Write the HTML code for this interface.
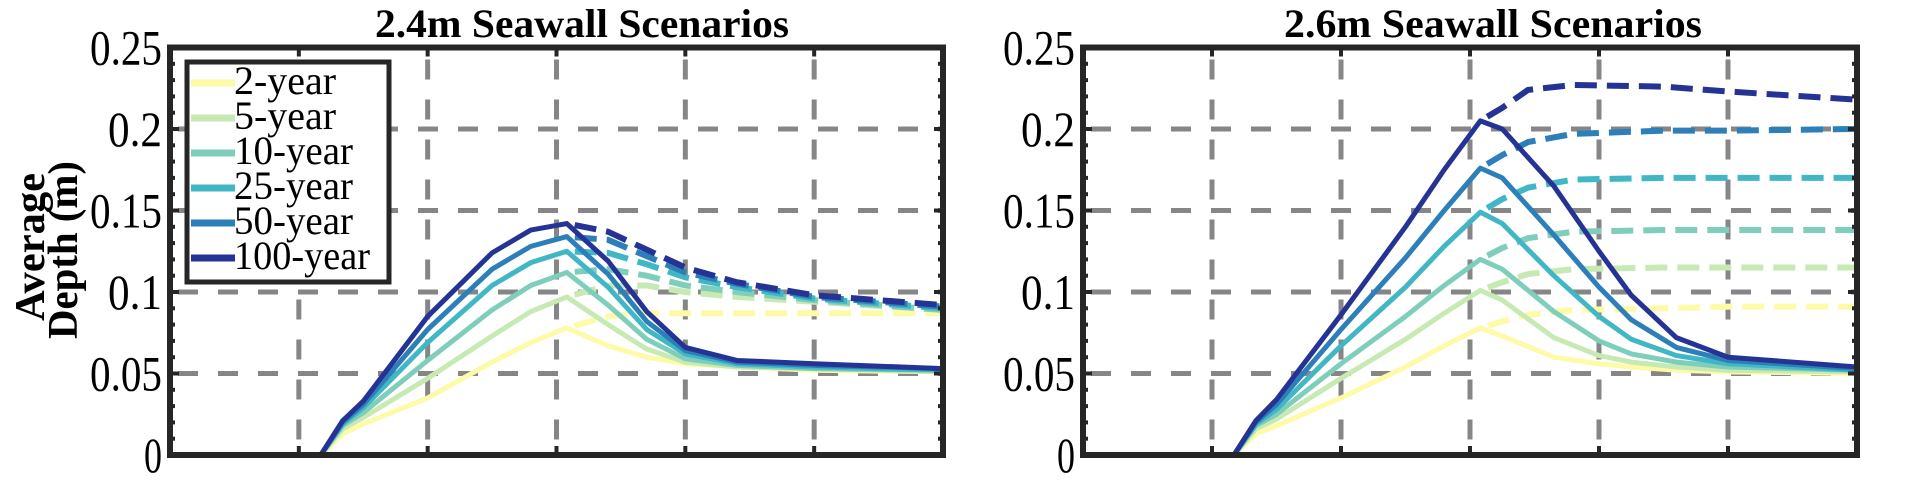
<!DOCTYPE html>
<html><head><meta charset="utf-8"><style>
html,body{margin:0;padding:0;background:#fff;}
svg{display:block;}
text{font-family:"Liberation Serif",serif;fill:#000;}
</style></head><body>
<svg id="fig" width="1905" height="481" viewBox="0 0 1905 481" xmlns="http://www.w3.org/2000/svg"></svg>
<script>
const seriesNames = ["2-year","5-year","10-year","25-year","50-year","100-year"];
const seriesColors = ["#fdfaa8","#c7e9b4","#7fcdbb","#41b6c4","#2c7fb8","#253494"];
const yTicks = [0,0.05,0.1,0.15,0.2,0.25];
const yTickLabels = ["0","0.05","0.1","0.15","0.2","0.25"];
const xGrid = [1,2,3,4,5];

// Left panel (2.4m)
const riseX = [0,1.17,1.34,1.5,2,2.5,2.8,3.08];
const leftRise = [
 [0,0,0.013,0.019,0.035,0.057,0.069,0.078],
 [0,0,0.016,0.023,0.047,0.073,0.088,0.097],
 [0,0,0.018,0.026,0.058,0.089,0.104,0.112],
 [0,0,0.019,0.029,0.069,0.104,0.118,0.125],
 [0,0,0.020,0.031,0.077,0.114,0.128,0.134],
 [0,0,0.021,0.033,0.085,0.124,0.138,0.142]];
const leftDecayX = [3.08,3.4,3.7,4.0,4.4,5,6];
const leftDecay = [
 [0.078,0.067,0.060,0.056,0.054,0.052,0.051],
 [0.097,0.080,0.065,0.057,0.054,0.053,0.051],
 [0.112,0.092,0.071,0.059,0.055,0.053,0.052],
 [0.125,0.103,0.077,0.062,0.056,0.054,0.052],
 [0.134,0.111,0.082,0.064,0.057,0.055,0.053],
 [0.142,0.119,0.088,0.066,0.058,0.056,0.053]];
const leftDashX = [3.08,3.4,3.7,4.0,4.4,5,6];
const leftDash = [
 [0.078,0.085,0.087,0.087,0.087,0.087,0.087],
 [0.097,0.104,0.104,0.100,0.097,0.094,0.089],
 [0.112,0.114,0.110,0.104,0.100,0.095,0.089],
 [0.125,0.124,0.117,0.109,0.103,0.096,0.090],
 [0.134,0.132,0.122,0.112,0.105,0.097,0.091],
 [0.142,0.137,0.126,0.115,0.106,0.098,0.092]];

// Right panel (2.6m)
const rightRise = [
 [0,0,0.013,0.018,0.035,0.054,0.067,0.078],
 [0,0,0.016,0.022,0.047,0.071,0.087,0.101],
 [0,0,0.018,0.025,0.056,0.085,0.104,0.120],
 [0,0,0.019,0.028,0.067,0.103,0.128,0.149],
 [0,0,0.020,0.031,0.077,0.121,0.150,0.176],
 [0,0,0.021,0.034,0.086,0.140,0.175,0.205]];
const rightDecayX = [3.08,3.25,3.65,4.0,4.25,4.6,5,6];
const rightDecay = [
 [0.078,0.073,0.060,0.056,0.054,0.052,0.051,0.050],
 [0.101,0.095,0.072,0.061,0.057,0.054,0.052,0.051],
 [0.120,0.114,0.088,0.070,0.062,0.057,0.054,0.052],
 [0.149,0.142,0.110,0.085,0.071,0.061,0.056,0.052],
 [0.176,0.170,0.135,0.103,0.083,0.066,0.058,0.053],
 [0.205,0.200,0.165,0.125,0.098,0.072,0.060,0.054]];
const rightDashX = [3.08,3.25,3.45,3.8,4.5,5,6];
const rightDash = [
 [0.078,0.082,0.086,0.089,0.090,0.091,0.091],
 [0.101,0.106,0.111,0.114,0.115,0.115,0.115],
 [0.120,0.127,0.133,0.137,0.138,0.138,0.138],
 [0.149,0.157,0.164,0.169,0.170,0.170,0.170],
 [0.176,0.184,0.192,0.197,0.199,0.199,0.200],
 [0.205,0.213,0.224,0.227,0.226,0.223,0.218]];

const NS="http://www.w3.org/2000/svg";
const svg=document.getElementById('fig');
function mk(tag,attrs,parent){const e=document.createElementNS(NS,tag);for(const k in attrs)e.setAttribute(k,attrs[k]);(parent||svg).appendChild(e);return e;}

const Y0=455, YS=1630;
function yPix(v){return Y0 - v*YS;}

function panel(name,left,right,title,titleX,titleLen,rise,decX,dec,dashX,dash,showLegend){
  const g=mk('g',{});
  
  
  const xPix=x=>left+(right-left)*x/6;
  xGrid.forEach(x=>{
    const l=mk('line',{x1:xPix(x),x2:xPix(x),y1:yPix(0.25),y2:yPix(0),stroke:'#868686','stroke-width':5,'stroke-dasharray':'20 20','stroke-dashoffset':-12},g);
    
    
  });
  yTicks.slice(1,5).forEach(v=>{
    const l=mk('line',{x1:left,x2:right,y1:yPix(v),y2:yPix(v),stroke:'#868686','stroke-width':5,'stroke-dasharray':'20 20','stroke-dashoffset':-8},g);
    
    
  });
  for(let i=0;i<seriesNames.length;i++){
    let pts=riseX.map((x,j)=>xPix(x)+','+yPix(rise[i][j]));
    pts=pts.concat(decX.slice(1).map((x,j)=>xPix(x)+','+yPix(dec[i][j+1])));
    const p=mk('polyline',{points:pts.join(' '),fill:'none',stroke:seriesColors[i],'stroke-width':5,'stroke-linejoin':'round'},g);
    
    
    const dp=dashX.map((x,j)=>xPix(x)+','+yPix(dash[i][j]));
    const d=mk('polyline',{points:dp.join(' '),fill:'none',stroke:seriesColors[i],'stroke-width':6,'stroke-dasharray':'22 10','stroke-dashoffset':-8},g);
    
    
  }
  const box=mk('rect',{x:left,y:yPix(0.25),width:right-left,height:yPix(0)-yPix(0.25),fill:'none',stroke:'#262626','stroke-width':6},g);
  
  
  for(let k=1;k<25;k++){
    const v=k*0.01;
    const len=(k%5===0)?9:5;
    mk('line',{x1:left,x2:left+len,y1:yPix(v),y2:yPix(v),stroke:'#262626','stroke-width':4},g);
    mk('line',{x1:right,x2:right-len,y1:yPix(v),y2:yPix(v),stroke:'#262626','stroke-width':4},g);
  }
  xGrid.forEach(x=>{
    mk('line',{x1:xPix(x),x2:xPix(x),y1:yPix(0.25),y2:yPix(0.25)+9,stroke:'#262626','stroke-width':4},g);
    mk('line',{x1:xPix(x),x2:xPix(x),y1:yPix(0),y2:yPix(0)-9,stroke:'#262626','stroke-width':4},g);
  });
  yTicks.forEach((v,i)=>{
    const t=mk('text',{x:left-8,y:yPix(v)+17,'text-anchor':'end','font-size':50},g);
    t.textContent=yTickLabels[i];
    t.setAttribute('textLength', 18*yTickLabels[i].length);
    t.setAttribute('lengthAdjust','spacingAndGlyphs');
    
    
  });
  const tt=mk('text',{x:titleX,y:37,'text-anchor':'middle','font-size':40,'font-weight':'bold',textLength:titleLen,lengthAdjust:'spacingAndGlyphs'},g);
  tt.textContent=title;
  
  
  if(showLegend){
    const lg=mk('g',{},g);
    
    
    mk('rect',{x:187,y:62,width:202,height:220,fill:'#fff',stroke:'#262626','stroke-width':5},lg);
    seriesNames.forEach((n,i)=>{
      const e=mk('g',{},lg);
      
      
      const cy=83+i*35;
      mk('line',{x1:191,x2:235,y1:cy,y2:cy,stroke:seriesColors[i],'stroke-width':7},e);
      const t=mk('text',{x:234,y:cy+11,'font-size':40,textLength:(n.length)*17,lengthAdjust:'spacingAndGlyphs'},e);
      t.textContent=n;
    });
  }
}
panel('left-panel',170,943,'2.4m Seawall Scenarios',582,414,leftRise,leftDecayX,leftDecay,leftDashX,leftDash,true);
panel('right-panel',1083,1857,'2.6m Seawall Scenarios',1493,418,rightRise,rightDecayX,rightDecay,rightDashX,rightDash,false);

const ya=mk('g',{});


const t1=mk('text',{transform:'translate(44,247) rotate(-90)','text-anchor':'middle','font-size':42,'font-weight':'bold',textLength:148,lengthAdjust:'spacingAndGlyphs'},ya);
t1.textContent='Average';
const t2=mk('text',{transform:'translate(77,250) rotate(-90)','text-anchor':'middle','font-size':42,'font-weight':'bold',textLength:178,lengthAdjust:'spacingAndGlyphs'},ya);
t2.textContent='Depth (m)';
</script>
</body></html>
